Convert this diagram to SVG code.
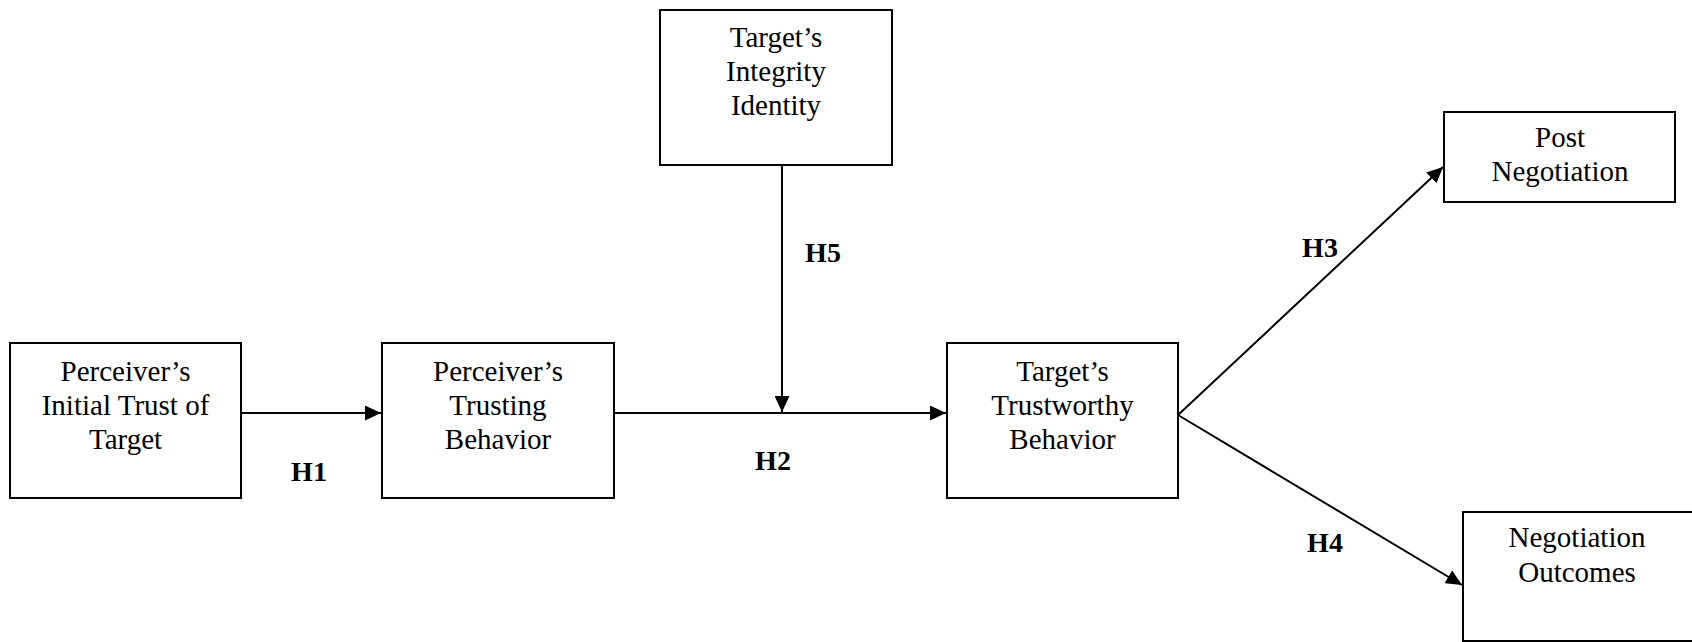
<svg xmlns="http://www.w3.org/2000/svg" width="1692" height="642" viewBox="0 0 1692 642">
  <style>
    .box { fill: #ffffff; stroke: #000000; stroke-width: 2; }
    .t { font-family: "Liberation Serif", "Times New Roman", serif; font-size: 29px; fill: #000000; text-anchor: middle; }
    .h { font-family: "Liberation Serif", "Times New Roman", serif; font-size: 28px; font-weight: bold; fill: #000000; text-anchor: middle; }
    .c { stroke: #000000; stroke-width: 2; fill: none; marker-end: url(#arr); }
  </style>
  <defs>
    <marker id="arr" markerUnits="userSpaceOnUse" markerWidth="17" markerHeight="15" refX="16" refY="7.5" orient="auto">
      <path d="M0,0 L16,7.5 L0,15 z" fill="#000000"/>
    </marker>
  </defs>
  <rect width="1692" height="642" fill="#ffffff"/>

  <g id="connectors">
    <line class="c" x1="241" y1="413" x2="381" y2="413"/>
    <line class="c" x1="614" y1="413" x2="946" y2="413"/>
    <line class="c" x1="782" y1="165" x2="782" y2="412"/>
    <line class="c" x1="1178" y1="415" x2="1443" y2="167"/>
    <line class="c" x1="1178" y1="415" x2="1462" y2="585"/>
  </g>

  <g id="labels">
    <text class="h" x="309" y="481">H1</text>
    <text class="h" x="773" y="470">H2</text>
    <text class="h" x="1320" y="257">H3</text>
    <text class="h" x="1325" y="552">H4</text>
    <text class="h" x="823" y="262">H5</text>
  </g>

  <g id="initial-trust">
    <rect class="box" x="10" y="343" width="231" height="155"/>
    <text class="t" x="125.5" y="381">Perceiver’s</text>
    <text class="t" x="125.5" y="415">Initial Trust of</text>
    <text class="t" x="125.5" y="449">Target</text>
  </g>

  <g id="trusting-behavior">
    <rect class="box" x="382" y="343" width="232" height="155"/>
    <text class="t" x="498" y="381">Perceiver’s</text>
    <text class="t" x="498" y="415">Trusting</text>
    <text class="t" x="498" y="449">Behavior</text>
  </g>

  <g id="integrity-identity">
    <rect class="box" x="660" y="10" width="232" height="155"/>
    <text class="t" x="776" y="47">Target’s</text>
    <text class="t" x="776" y="81">Integrity</text>
    <text class="t" x="776" y="115">Identity</text>
  </g>

  <g id="trustworthy-behavior">
    <rect class="box" x="947" y="343" width="231" height="155"/>
    <text class="t" x="1062.5" y="381">Target’s</text>
    <text class="t" x="1062.5" y="415">Trustworthy</text>
    <text class="t" x="1062.5" y="449">Behavior</text>
  </g>

  <g id="post-negotiation">
    <rect class="box" x="1444" y="112" width="231" height="90"/>
    <text class="t" x="1560" y="147">Post</text>
    <text class="t" x="1560" y="181">Negotiation</text>
  </g>

  <g id="negotiation-outcomes">
    <rect class="box" x="1463" y="512" width="260" height="129"/>
    <text class="t" x="1577" y="547">Negotiation</text>
    <text class="t" x="1577" y="582">Outcomes</text>
  </g>
</svg>
